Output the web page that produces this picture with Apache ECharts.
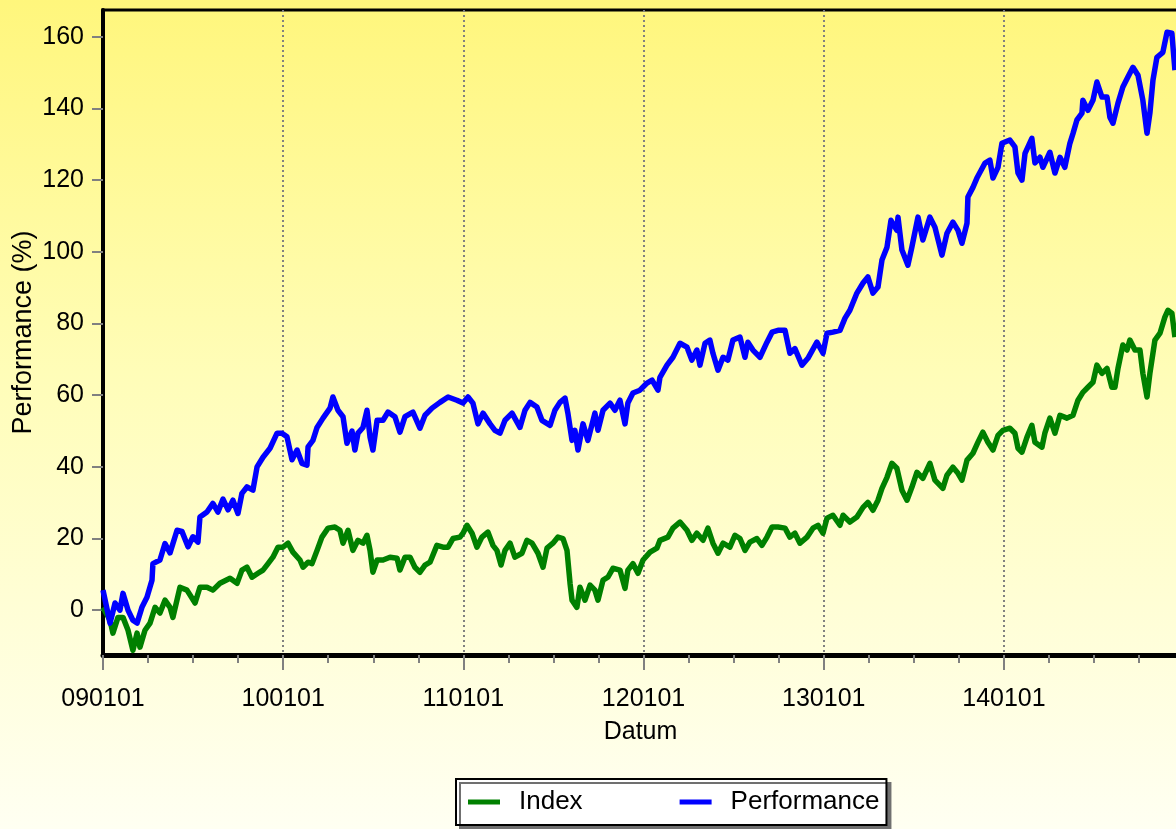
<!DOCTYPE html>
<html>
<head>
<meta charset="utf-8">
<script src="https://cdn.jsdelivr.net/npm/echarts@6/dist/echarts.min.js"></script>
<style>
html,body{margin:0;padding:0;}
#chart{width:1176px;height:829px;}
</style>
</head>
<body>
<div id="chart"></div>
<script>
// x values: years elapsed since 2009-01-01 (090101)
const perfYears = [0.000,0.039,0.067,0.094,0.111,0.139,0.166,0.189,0.216,0.244,0.272,0.277,0.316,0.344,0.372,0.411,0.438,0.472,0.499,0.527,0.538,0.577,0.610,0.638,0.666,0.694,0.721,0.749,0.771,0.799,0.832,0.855,0.888,0.927,0.966,0.993,1.021,1.049,1.077,1.104,1.132,1.138,1.165,1.188,1.221,1.260,1.276,1.304,1.332,1.354,1.382,1.398,1.415,1.443,1.465,1.482,1.498,1.521,1.554,1.582,1.620,1.648,1.676,1.720,1.759,1.787,1.826,1.870,1.915,1.964,1.998,2.026,2.053,2.081,2.109,2.148,2.175,2.203,2.231,2.270,2.314,2.342,2.370,2.408,2.436,2.481,2.508,2.536,2.564,2.580,2.603,2.619,2.636,2.664,2.691,2.730,2.747,2.775,2.814,2.841,2.869,2.897,2.913,2.941,2.980,3.019,3.047,3.080,3.091,3.130,3.163,3.202,3.241,3.268,3.296,3.313,3.341,3.368,3.385,3.413,3.441,3.468,3.496,3.535,3.563,3.579,3.607,3.646,3.685,3.713,3.746,3.785,3.812,3.840,3.879,3.912,3.962,3.996,4.018,4.051,4.090,4.118,4.145,4.184,4.218,4.245,4.273,4.301,4.323,4.351,4.373,4.406,4.412,4.434,4.467,4.489,4.523,4.550,4.589,4.617,4.656,4.684,4.717,4.745,4.767,4.795,4.800,4.828,4.850,4.895,4.922,4.939,4.967,4.989,5.033,5.061,5.078,5.100,5.117,5.155,5.172,5.200,5.216,5.255,5.283,5.311,5.338,5.366,5.383,5.405,5.433,5.438,5.466,5.494,5.516,5.544,5.572,5.588,5.605,5.633,5.660,5.688,5.716,5.744,5.771,5.794,5.810,5.827,5.849,5.882,5.905,5.932,5.949];
const perfValues = [5.6,-3.6,2,0,4.7,0,-2.8,-3.6,0.8,3.6,8.4,13,14,18.6,16,22.3,22,17.7,20.5,19,26,27.4,29.8,27.4,31,28,30.7,27,32.6,34.4,33.5,40,42.7,45.2,49.4,49.4,48.4,42,44.7,41,40.5,45.6,47.4,51,53.6,56.4,59.5,55.8,54,46.6,50,44.7,49.4,51,55.8,48.3,44.7,53,53,55.3,54,49.7,54,55.3,50.8,54.4,56.4,58,59.5,58.6,57.8,59.5,57.8,52,55,52,50.2,49.4,53,55,51,55.8,58,56.7,53,51.6,55.8,58,59.2,55,47.4,50.2,44.7,52,47.4,55,50.2,55.8,57.8,55.8,58.6,52,57.8,60.6,61.4,63.4,64.2,61.4,65,68.4,70.6,74.5,73.4,69.8,72.6,68.4,74.5,75.4,71.7,67,70.6,69.8,75.4,76.2,70.6,74.8,72.6,70.6,74.8,77.6,78.1,78.1,71.7,73,68.4,70.3,74.8,71.7,77.3,77.6,78.1,81.5,83.7,88.5,91.3,93,88.5,90.2,97.7,101.3,108.8,106,109.7,100.5,96.3,101.3,109.7,103.3,109.7,106.9,99.1,105.2,108.3,106,102.4,108,115.3,118,120.6,124.8,125.6,120.6,123.6,130.3,131.2,129.3,122,120,127.5,131.7,124.8,126.4,123.6,127.8,122,126.4,123.6,130.3,133,136.8,138.7,142.3,139.5,142.3,147.4,143.2,143.2,137.6,135.9,141.5,146,148.8,151.5,149.3,142.3,133.1,138.7,147.9,154.3,155.7,161.3,161,150.7];

const indexYears = [0.000,0.039,0.055,0.083,0.111,0.139,0.166,0.189,0.205,0.233,0.261,0.289,0.316,0.344,0.372,0.388,0.427,0.466,0.511,0.538,0.577,0.610,0.649,0.705,0.744,0.771,0.799,0.827,0.860,0.888,0.916,0.943,0.971,0.999,1.027,1.054,1.093,1.110,1.138,1.160,1.188,1.215,1.249,1.287,1.315,1.332,1.360,1.387,1.415,1.443,1.465,1.482,1.498,1.521,1.554,1.593,1.632,1.648,1.676,1.704,1.731,1.759,1.787,1.815,1.853,1.887,1.915,1.942,1.981,1.998,2.020,2.048,2.075,2.103,2.136,2.164,2.186,2.209,2.231,2.259,2.286,2.325,2.353,2.381,2.414,2.442,2.464,2.497,2.525,2.553,2.575,2.592,2.603,2.630,2.647,2.675,2.703,2.730,2.747,2.775,2.802,2.830,2.869,2.897,2.913,2.941,2.969,2.997,3.036,3.074,3.091,3.135,3.163,3.202,3.241,3.268,3.296,3.330,3.357,3.385,3.413,3.441,3.479,3.507,3.535,3.563,3.590,3.629,3.657,3.685,3.713,3.746,3.785,3.812,3.840,3.868,3.907,3.940,3.968,3.996,4.018,4.051,4.090,4.107,4.145,4.184,4.218,4.245,4.273,4.301,4.323,4.351,4.378,4.406,4.434,4.462,4.489,4.517,4.550,4.589,4.617,4.661,4.684,4.717,4.745,4.767,4.795,4.828,4.856,4.883,4.911,4.939,4.967,4.994,5.033,5.061,5.078,5.100,5.128,5.155,5.172,5.211,5.227,5.255,5.283,5.311,5.350,5.383,5.411,5.438,5.466,5.494,5.516,5.544,5.572,5.599,5.616,5.633,5.660,5.683,5.699,5.727,5.755,5.771,5.794,5.810,5.838,5.866,5.893,5.910,5.932,5.949];
const indexValues = [0.8,-2.8,-6.4,-2,-2,-5.6,-11.2,-6.4,-10.3,-5.6,-3.6,0.8,-0.8,2.8,0.8,-2,6.4,5.6,2,6.4,6.4,5.6,7.5,8.9,7.5,11.2,12,9.2,10.3,11.2,13,14.8,17.6,17.6,18.7,16.2,14,12,13.4,13,16.7,20.4,22.9,23.2,22.3,18.7,22.3,16.7,19.5,18.7,20.9,16.7,10.6,14,14,14.8,14.5,11.2,14.8,14.8,12,10.6,12.6,13.4,18.1,17.6,17.6,20,20.4,21.5,23.7,21.5,17.6,20.4,21.8,18.1,16.7,12.6,16.7,18.7,14.8,15.9,19.5,18.7,15.9,12,17.3,18.7,20.4,20,16.7,7.5,2.8,0.8,6.4,2.8,7,5.6,2.8,8.4,9.2,11.7,11.2,6.1,11.2,13,10.3,14,16.2,17.3,19.5,20.4,22.9,24.6,22.3,19.5,21.5,19.5,22.9,18.7,15.9,18.7,17.6,20.9,20,16.7,19,20,18.1,20.4,23.2,23.2,22.9,20.4,21.5,18.7,20.4,22.9,23.7,21.5,25.7,26.5,23.7,26.5,24.6,26,28.7,30.1,27.9,30.7,34,37.1,41,39.6,33.5,30.7,34.3,38.5,36.8,41,36.3,34,37.7,39.9,38.2,36.3,41.9,43.8,46.9,49.7,46.9,44.7,48.8,50.2,50.8,49.4,45.2,44.1,48.3,51.6,46.9,45.5,49.4,53.6,49.4,54.4,53.6,54.4,58.6,60.8,62.2,63.6,68.4,66.1,67.5,62.2,62.2,67.5,74,72.6,75.4,72.6,72.6,66.1,59.5,66.1,75.4,77.3,81.8,83.7,82.9,76.2];

const yTicks = [0, 20, 40, 60, 80, 100, 120, 140, 160];
const yearCount = 6;          // labelled years 090101 ... 140101
const seriesNames = ['Index', 'Performance'];

const xMax = 5.966;
const quarterTicks = [];
for (let y = 0; y < yearCount; y++) { for (let q = 1; q < 4; q++) quarterTicks.push(y + q / 4); }

const pair = (xs, vs) => xs.map((x, i) => [x, vs[i]]);
const fontFam = '"Liberation Sans", Arial, sans-serif';

const chart = echarts.init(document.getElementById('chart'), null, { renderer: 'canvas' });
chart.setOption({
  animation: false,
  backgroundColor: new echarts.graphic.LinearGradient(0, 0, 0, 1, [
    { offset: 0, color: '#FFF67C' },
    { offset: 0.45, color: '#FFFDB8' },
    { offset: 1, color: '#FFFFF2' }
  ]),
  textStyle: { fontFamily: fontFam },
  grid: {
    left: 103, top: 10, right: -2, bottom: 174,
    containLabel: false, outerBoundsMode: 'none',
    show: true, borderColor: '#000', borderWidth: 3, backgroundColor: 'transparent'
  },
  legend: {
    left: 456, top: 779,
    data: seriesNames,
    icon: 'rect', itemWidth: 32, itemHeight: 5, itemGap: 97,
    padding: [10, 7, 10, 12],
    backgroundColor: '#FFFFFF', borderColor: '#000', borderWidth: 2,
    shadowColor: '#707070', shadowBlur: 0, shadowOffsetX: 4, shadowOffsetY: 4,
    textStyle: { fontSize: 26, color: '#000', fontFamily: fontFam, padding: [0, 0, 0, 14] }
  },
  xAxis: [{
    type: 'value', min: 0, max: xMax, interval: 1, position: 'bottom',
    name: 'Datum', nameLocation: 'middle', nameGap: 65, nameMoveOverlap: false,
    nameTextStyle: { fontSize: 25, color: '#000', fontFamily: fontFam },
    axisLine: { show: true, onZero: false, lineStyle: { color: '#000', width: 5 } },
    axisTick: { show: true, length: 15, lineStyle: { color: '#808080', width: 2 } },
    axisLabel: {
      fontSize: 25, color: '#000', margin: 32, showMaxLabel: false, fontFamily: fontFam,
      formatter: v => String(9 + Math.round(v)).padStart(2, '0') + '0101'
    },
    splitLine: { show: true, lineStyle: { color: '#808080', width: 2, type: [2, 3] } }
  }, {
    type: 'value', min: 0, max: xMax, position: 'bottom',
    axisLine: { show: false, onZero: false },
    axisTick: { show: true, customValues: quarterTicks, length: 8, lineStyle: { color: '#808080', width: 2 } },
    axisLabel: { show: false },
    splitLine: { show: false }
  }],
  yAxis: {
    type: 'value', min: -12.5, max: 167.5,
    name: 'Performance (%)', nameLocation: 'middle', nameGap: 66, nameMoveOverlap: false,
    nameTextStyle: { fontSize: 27, color: '#000', fontFamily: fontFam },
    axisLine: { show: true, onZero: false, lineStyle: { color: '#000', width: 4 } },
    axisTick: { show: true, customValues: yTicks, length: 11, lineStyle: { color: '#808080', width: 2 } },
    axisLabel: { customValues: yTicks, fontSize: 25, color: '#000', margin: 19, fontFamily: fontFam },
    splitLine: { show: false }
  },
  series: [{
    name: seriesNames[0], type: 'line', xAxisIndex: 0,
    data: pair(indexYears, indexValues),
    showSymbol: false, symbol: 'none', color: '#008000',
    lineStyle: { width: 5.5, color: '#008000', join: 'round' }
  }, {
    name: seriesNames[1], type: 'line', xAxisIndex: 0,
    data: pair(perfYears, perfValues),
    showSymbol: false, symbol: 'none', color: '#0000FF',
    lineStyle: { width: 5.5, color: '#0000FF', join: 'round' }
  }]
});
</script>
</body>
</html>
